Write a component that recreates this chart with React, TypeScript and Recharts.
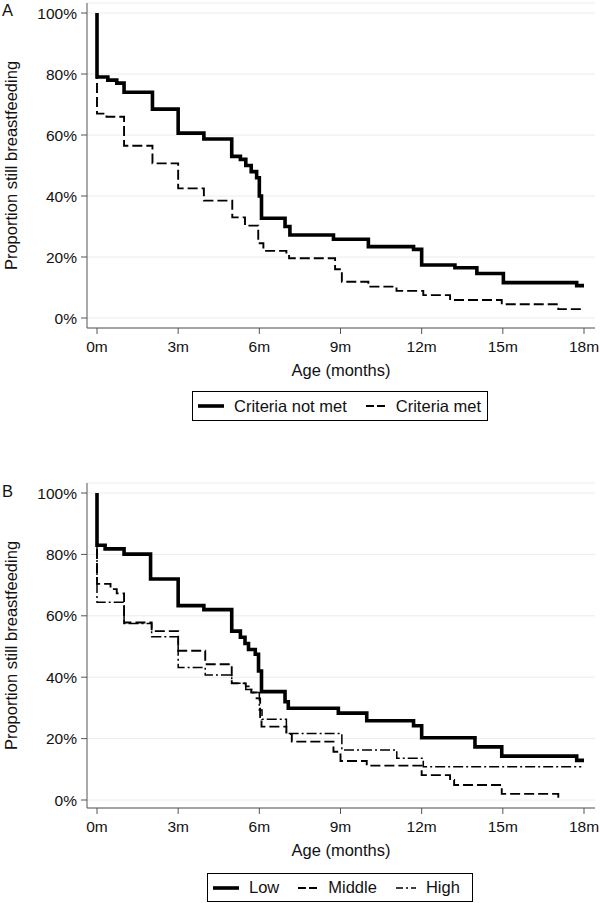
import React from "react";
import { LineChart, Line, XAxis, YAxis, CartesianGrid } from "recharts";

const FONT = '"Liberation Sans", Arial, sans-serif';

const monthTicks = [0, 3, 6, 9, 12, 15, 18];
const pctTicks = [0, 20, 40, 60, 80, 100];

// Panel A: Criteria not met (solid)
const notMetMonths = [0, 0, 0.4, 0.73, 1.0, 2.05, 3.0, 3.95, 4.98, 5.3, 5.5, 5.7, 5.9, 6.0, 6.08, 6.95, 7.13, 8.74, 10.03, 11.7, 12.0, 13.23, 14.04, 15.02, 17.73, 18];
const notMetPct = [100, 79, 78, 77, 74, 68.5, 60.6, 58.7, 53, 52, 50, 48, 46, 40, 32.7, 30, 27.2, 25.8, 23.4, 22.5, 17.4, 16.5, 14.6, 11.6, 10.6, 10.6];

// Panel A: Criteria met (dashed)
const metMonths = [0, 0, 0.35, 1.0, 2.05, 3.0, 3.95, 5.0, 5.47, 5.96, 6.15, 7.0, 7.1, 8.8, 9.05, 10.03, 11.07, 12.06, 13.05, 14.96, 17.05, 17.98];
const metPct = [100, 67, 66, 56.5, 50.7, 42.5, 38.5, 33, 30.3, 24.5, 22, 20.7, 19.6, 16, 11.9, 10.3, 8.9, 7.5, 5.9, 4.5, 2.9, 2.9];

// Panel B: Low / Middle / High
const lowMonths = [0, 0, 0.3, 1.0, 1.98, 3.0, 3.95, 4.98, 5.3, 5.47, 5.6, 5.85, 5.97, 6.08, 6.95, 7.07, 8.92, 9.97, 11.7, 12.0, 13.97, 14.96, 17.73, 18];
const lowPct = [100, 83, 81.8, 80.1, 72, 63.3, 62, 55, 53, 51, 49, 47.5, 42, 35.3, 32, 29.9, 28.3, 25.8, 24.2, 20.3, 17.3, 14.3, 12.9, 12.9];

const middleMonths = [0, 0, 0.5, 0.73, 1.0, 2.02, 3.0, 4.0, 4.98, 5.5, 5.7, 5.9, 6.03, 6.08, 7.0, 7.2, 8.74, 9.0, 9.97, 12.0, 13.05, 13.2, 14.96, 17.05, 17.05];
const middlePct = [100, 70.4, 68.7, 67.3, 57.8, 55, 48.6, 44.2, 38, 37, 35, 33.1, 27, 23.9, 21.5, 19, 15.7, 12.7, 11.2, 8.1, 6.5, 4.9, 2, 2, 0.2];

const highMonths = [0, 0, 1.0, 2.02, 3.0, 4.0, 4.98, 5.5, 5.75, 6.0, 6.1, 7.0, 9.05, 11.08, 12.06, 17.9];
const highPct = [100, 64.4, 57.5, 53.2, 43.2, 40.7, 38, 36, 35, 29.3, 26.3, 21.7, 16.3, 13.6, 10.8, 10.8];

type Pt = { t: number; v: number };
const toPoints = (months: number[], pct: number[]): Pt[] => months.map((t, i) => ({ t, v: pct[i] }));

type Series = { name: string; data: Pt[]; width: number; dash?: string };

const solid = { width: 3.6 };
const dashed = { width: 1.9, dash: "10 4" };
const dashDot = { width: 1.5, dash: "10 3 2 3" };

const seriesA: Series[] = [
  { name: "Criteria not met", data: toPoints(notMetMonths, notMetPct), ...solid },
  { name: "Criteria met", data: toPoints(metMonths, metPct), ...dashed },
];

const seriesB: Series[] = [
  { name: "Low", data: toPoints(lowMonths, lowPct), ...solid },
  { name: "Middle", data: toPoints(middleMonths, middlePct), ...dashed },
  { name: "High", data: toPoints(highMonths, highPct), ...dashDot },
];

function YTitle(props: any) {
  const vb = props.viewBox || {};
  const cx = 16.5;
  const cy = vb.y + vb.height / 2;
  return (
    <text x={cx} y={cy} transform={`rotate(-90, ${cx}, ${cy})`} textAnchor="middle" fontSize={16.5} fill="#111" fontFamily={FONT}>
      Proportion still breastfeeding
    </text>
  );
}

function Panel({ series, top, padBottom }: { series: Series[]; top: number; padBottom: number }) {
  return (
    <LineChart width={600} height={top + 387} margin={{ top, right: 5, bottom: 0, left: 0 }} style={{ fontFamily: FONT }}>
      <CartesianGrid horizontal vertical={false} stroke="#ececec" strokeWidth={1} />
      <XAxis
        type="number"
        dataKey="t"
        domain={[0, 18]}
        ticks={monthTicks}
        tickFormatter={(m: number) => `${m}m`}
        padding={{ left: 10, right: 11 }}
        height={62}
        tickSize={6}
        tickMargin={7}
        stroke="#555"
        tick={{ fontSize: 15.5, fill: "#111" }}
        label={{ value: "Age (months)", position: "insideBottom", offset: 14, fontSize: 16.5, fill: "#111" }}
      />
      <YAxis
        type="number"
        domain={[0, 100]}
        ticks={pctTicks}
        tickFormatter={(v: number) => `${v}%`}
        padding={{ top: 10, bottom: padBottom }}
        width={87}
        tickSize={6}
        tickMargin={4}
        stroke="#555"
        tick={{ fontSize: 15.5, fill: "#111" }}
        label={<YTitle />}
      />
      {series.map((s) => (
        <Line
          key={s.name}
          data={s.data}
          dataKey="v"
          name={s.name}
          type="stepAfter"
          stroke="#000"
          strokeWidth={s.width}
          strokeDasharray={s.dash}
          dot={false}
          activeDot={false}
          isAnimationActive={false}
        />
      ))}
    </LineChart>
  );
}

function LegendBox({ series, left, top, width, height }: { series: Series[]; left: number; top: number; width: number; height: number }) {
  return (
    <div
      style={{
        position: "absolute",
        left,
        top,
        width,
        height,
        boxSizing: "border-box",
        border: "1px solid #000",
        display: "flex",
        alignItems: "center",
        paddingLeft: 5,
        gap: 19,
        fontFamily: FONT,
        fontSize: 16.5,
        color: "#111",
        whiteSpace: "nowrap",
      }}
    >
      {series.map((s) => (
        <div key={s.name} style={{ display: "flex", alignItems: "center", gap: 10 }}>
          <svg width={s.dash ? 20 : 26} height={10}>
            <line x1={0} y1={5} x2={s.dash ? 20 : 26} y2={5} stroke="#000" strokeWidth={s.width} strokeDasharray={s.dash ? (s.dash === dashed.dash ? "8 3" : "7 3 2 3") : undefined} />
          </svg>
          <span>{s.name}</span>
        </div>
      ))}
    </div>
  );
}

const panelLabel = (text: string, top: number) => (
  <div style={{ position: "absolute", left: 2, top, fontFamily: FONT, fontSize: 16.5, color: "#111", lineHeight: 1 }}>{text}</div>
);

export default function App() {
  return (
    <div style={{ position: "absolute", left: 0, top: 0, width: 600, height: 903, background: "#fff", overflow: "hidden" }}>
      <div style={{ position: "absolute", left: 0, top: 0 }}>
        <Panel series={seriesA} top={3} padBottom={10} />
      </div>
      <div style={{ position: "absolute", left: 0, top: 440 }}>
        <Panel series={seriesB} top={43} padBottom={8} />
      </div>
      {panelLabel("A", 2)}
      {panelLabel("B", 483)}
      <LegendBox series={seriesA} left={192} top={391} width={296} height={30} />
      <LegendBox series={seriesB} left={207} top={873} width={266} height={29} />
    </div>
  );
}
